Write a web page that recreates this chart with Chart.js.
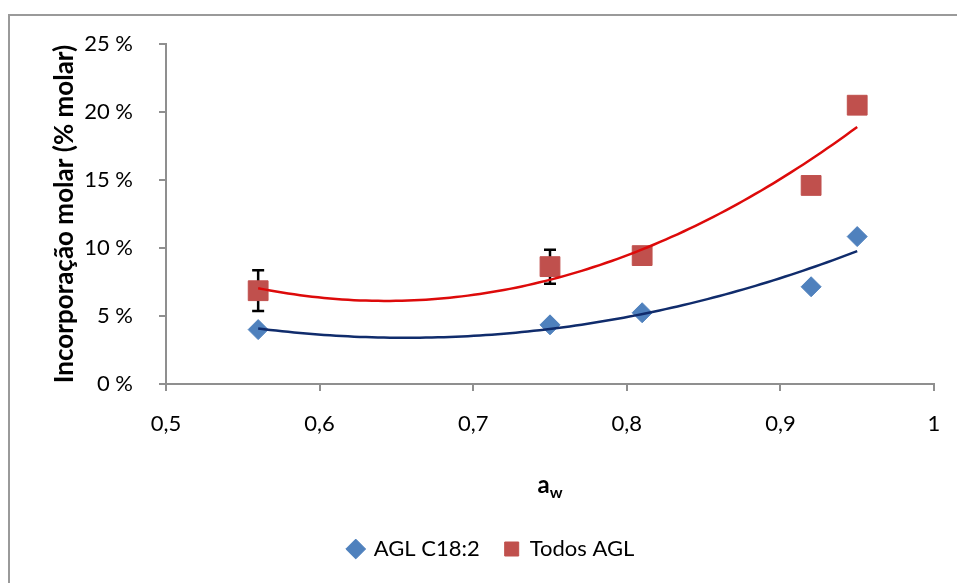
<!DOCTYPE html>
<html>
<head>
<meta charset="utf-8">
<script src="https://cdn.jsdelivr.net/npm/chart.js@4.4.0/dist/chart.umd.min.js"></script>
<style>
  html, body { margin: 0; padding: 0; background: #fff; overflow: hidden; }
  #wrap { position: relative; width: 957px; height: 583px; }
  #frame { position: absolute; left: 8px; top: 14px; width: 1000px; height: 700px; border: 2px solid #9a9a9a; box-sizing: border-box; }
  canvas { position: absolute; left: 0; top: 0; }
</style>
</head>
<body>
<div id="wrap">
  <div id="frame"></div>
  <canvas id="chart" width="957" height="583"></canvas>
</div>
<script>
// values
const aw = [0.56, 0.75, 0.81, 0.92, 0.95];
const aglC182 = [4.0, 4.35, 5.24, 7.15, 10.84];
const todosAgl = [6.86, 8.63, 9.44, 14.6, 20.5];
const todosErr = [1.5, 1.25, 0, 0, 0];

const seriesNames = ['AGL C18:2', 'Todos AGL'];
const xTicks = [0.5, 0.6, 0.7, 0.8, 0.9, 1];
const xTickLabels = ['0,5', '0,6', '0,7', '0,8', '0,9', '1'];
const yTicks = [0, 5, 10, 15, 20, 25];
const yTickLabels = ['0 %', '5 %', '10 %', '15 %', '20 %', '25 %'];

const FONT = 'Lato, "Open Sans", sans-serif';
const AXIS_GREY = '#8f8f8f';

// least squares fit y = a + b x + c x^2 (the Excel polynomial trendline)
function polyFit2(xs, ys) {
    const s = [0, 0, 0, 0, 0], t = [0, 0, 0];
    xs.forEach((x, i) => {
        for (let k = 0; k < 5; k++) s[k] += Math.pow(x, k);
        for (let k = 0; k < 3; k++) t[k] += ys[i] * Math.pow(x, k);
    });
    const m = [
        [s[0], s[1], s[2], t[0]],
        [s[1], s[2], s[3], t[1]],
        [s[2], s[3], s[4], t[2]]
    ];
    for (let i = 0; i < 3; i++) {
        for (let j = i + 1; j < 3; j++) {
            const f = m[j][i] / m[i][i];
            for (let k = i; k < 4; k++) m[j][k] -= f * m[i][k];
        }
    }
    const c = [0, 0, 0];
    for (let i = 2; i >= 0; i--) {
        let v = m[i][3];
        for (let k = i + 1; k < 3; k++) v -= m[i][k] * c[k];
        c[i] = v / m[i][i];
    }
    return c;
}

function trendPoints(xs, ys) {
    const c = polyFit2(xs, ys);
    const x0 = Math.min(...xs), x1 = Math.max(...xs);
    const pts = [];
    for (let i = 0; i <= 100; i++) {
        const x = x0 + (x1 - x0) * i / 100;
        pts.push({ x, y: c[0] + c[1] * x + c[2] * x * x });
    }
    return pts;
}

const toXY = ys => aw.map((x, i) => ({ x, y: ys[i] }));

// vertical error bars with caps, drawn under the markers
const errorBars = {
    id: 'errorBars',
    beforeDatasetsDraw(chart) {
        const { ctx, scales: { x, y } } = chart;
        ctx.save();
        ctx.strokeStyle = '#000';
        ctx.lineWidth = 2.5;
        aw.forEach((v, i) => {
            const e = todosErr[i];
            if (!e) return;
            const px = x.getPixelForValue(v);
            const top = y.getPixelForValue(todosAgl[i] + e);
            const bot = y.getPixelForValue(todosAgl[i] - e);
            ctx.beginPath();
            ctx.moveTo(px, top); ctx.lineTo(px, bot);
            ctx.moveTo(px - 6, top); ctx.lineTo(px + 6, top);
            ctx.moveTo(px - 6, bot); ctx.lineTo(px + 6, bot);
            ctx.stroke();
        });
        ctx.restore();
    }
};

// x axis title "a" with subscript "w"
const xTitle = {
    id: 'xTitle',
    afterDraw(chart) {
        const { ctx, chartArea } = chart;
        const cx = (chartArea.left + chartArea.right) / 2;
        const y = 485;
        ctx.save();
        ctx.fillStyle = '#000';
        ctx.textBaseline = 'middle';
        ctx.font = 'bold 24px ' + FONT;
        const wa = ctx.measureText('a').width;
        ctx.font = 'bold 16px ' + FONT;
        const ww = ctx.measureText('w').width;
        const start = cx - (wa + ww) / 2;
        ctx.font = 'bold 24px ' + FONT;
        ctx.fillText('a', start, y);
        ctx.font = 'bold 16px ' + FONT;
        ctx.fillText('w', start + wa, y + 8);
        ctx.restore();
    }
};

const ctx = document.getElementById('chart');

new Chart(ctx, {
    type: 'scatter',
    data: {
        datasets: [
            {
                label: seriesNames[0],
                data: toXY(aglC182),
                pointStyle: 'rectRot',
                pointRadius: 10,
                backgroundColor: '#4F81BD',
                borderColor: '#4F81BD',
                borderWidth: 1,
                order: 1
            },
            {
                label: seriesNames[1],
                data: toXY(todosAgl),
                pointStyle: 'rect',
                pointRadius: 14,
                backgroundColor: '#C0504D',
                borderColor: '#C0504D',
                borderWidth: 1,
                order: 1
            },
            {
                label: 'trend C18:2',
                data: trendPoints(aw, aglC182),
                showLine: true,
                borderColor: '#102C6C',
                borderWidth: 2.5,
                pointRadius: 0,
                order: 0
            },
            {
                label: 'trend todos',
                data: trendPoints(aw, todosAgl),
                showLine: true,
                borderColor: '#DD0A0A',
                borderWidth: 2.5,
                pointRadius: 0,
                order: 0
            }
        ]
    },
    options: {
        responsive: false,
        animation: false,
        layout: {
            padding: { left: 49, right: 23, top: 44, bottom: 13 }
        },
        plugins: {
            tooltip: { enabled: false },
            legend: {
                position: 'bottom',
                maxHeight: 71,
                labels: {
                    usePointStyle: true,
                    boxHeight: 14,
                    boxWidth: 14,
                    padding: 25,
                    color: '#000',
                    font: { family: FONT, size: 22 },
                    filter: item => item.datasetIndex < 2
                }
            }
        },
        scales: {
            x: {
                type: 'linear',
                min: 0.5,
                max: 1,
                afterBuildTicks: scale => { scale.ticks = xTicks.map(v => ({ value: v })); },
                afterFit: scale => {
                    scale.height = 129;
                    // the tick padding is vertical here, don't let it eat the right side
                    scale.paddingRight = 0;
                },
                ticks: {
                    callback: value => xTickLabels[xTicks.indexOf(value)],
                    color: '#000',
                    padding: 20,
                    maxRotation: 0,
                    font: { family: FONT, size: 22 }
                },
                grid: {
                    drawOnChartArea: false,
                    tickLength: 7,
                    color: AXIS_GREY,
                    lineWidth: 2
                },
                border: { color: AXIS_GREY, width: 2 }
            },
            y: {
                min: 0,
                max: 25,
                afterBuildTicks: scale => { scale.ticks = yTicks.map(v => ({ value: v })); },
                afterFit: scale => { scale.width = 117; },
                ticks: {
                    callback: value => yTickLabels[yTicks.indexOf(value)],
                    color: '#000',
                    padding: 26,
                    font: { family: FONT, size: 22 }
                },
                grid: {
                    drawOnChartArea: false,
                    tickLength: 7,
                    color: AXIS_GREY,
                    lineWidth: 2
                },
                border: { color: AXIS_GREY, width: 2 },
                title: {
                    display: true,
                    text: 'Incorporação molar (% molar)',
                    color: '#000',
                    padding: { top: 0, bottom: 0 },
                    font: { family: FONT, size: 26, weight: 'bold' }
                }
            }
        }
    },
    plugins: [errorBars, xTitle]
});
</script>
</body>
</html>
